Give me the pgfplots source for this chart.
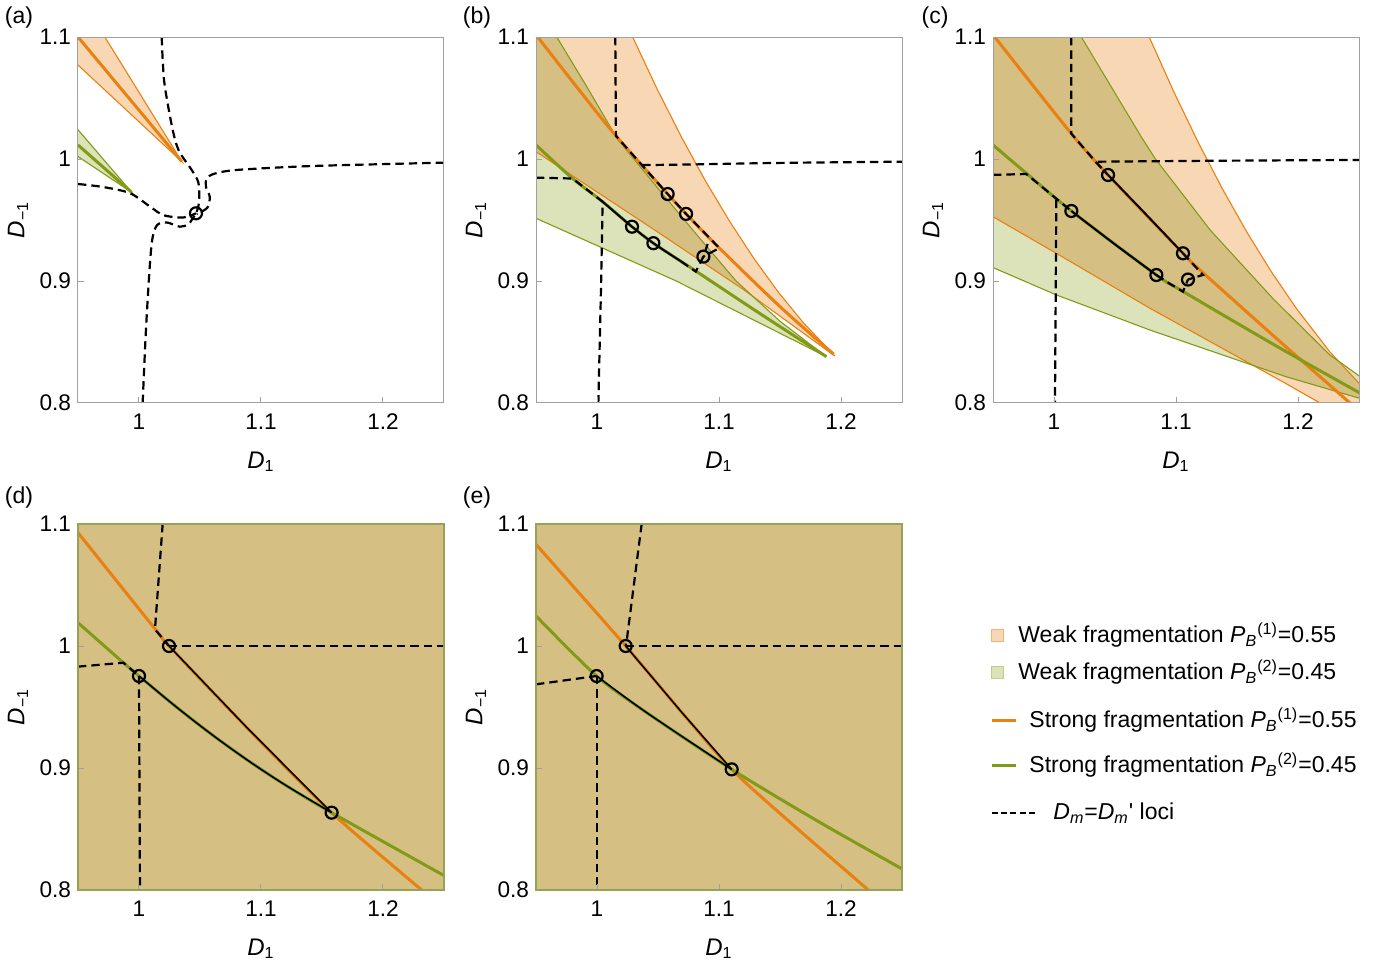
\documentclass[border=0pt]{standalone}
\usepackage{fontspec}
\setmainfont{Liberation Sans}
\usepackage{amsmath}
\usepackage{pgfplots}
\pgfplotsset{compat=1.18}
\definecolor{lo}{RGB}{248,216,180}
\definecolor{lg}{RGB}{220,226,186}
\definecolor{OR}{RGB}{234,128,16}
\definecolor{GR}{RGB}{130,155,22}
\definecolor{frame}{RGB}{160,160,160}
\pgfplotsset{
 panel/.style={
   scale only axis, width=183pt, height=183pt, anchor=south west,
   xmin=0.95,xmax=1.25,ymin=0.8,ymax=1.1,
   xtick={1,1.1,1.2}, ytick={0.8,0.9,1,1.1},
   tick pos=left, tick align=inside, major tick length=3pt,
   axis line style={draw=frame, line width=0.5pt},
   tick style={draw=frame, line width=0.5pt},
   /pgf/number format/assume math mode=true,
   tick label style={font=\fontsize{11.3}{13}\selectfont},
   xticklabel style={yshift=-1.8pt},
   xlabel={\textit{D}\textsubscript{1}},
   ylabel={\textit{D}\textsubscript{−1}},
   every axis x label/.style={at={(axis description cs:0.5,-0.161)},anchor=center,font=\fontsize{12}{14}\selectfont},
   every axis y label/.style={at={(axis description cs:-0.164,0.5)},anchor=center,rotate=90,font=\fontsize{12}{14}\selectfont},
   axis on top, clip=true,
 },
 bandO/.style={fill=lo, draw=none, blend mode=multiply},
 bandG/.style={fill=lg, draw=none, blend mode=multiply},
 thinO/.style={OR, line width=0.55pt},
 thinG/.style={GR, line width=0.55pt},
 thickO/.style={OR, line width=1.5pt, smooth},
 thickG/.style={GR, line width=1.5pt, smooth},
 dsh/.style={black, line width=1.1pt, dash pattern=on 4.2pt off 2.5pt},
 sol/.style={black, line width=1pt, smooth},
 circ/.style={only marks, mark=o, mark size=3pt, mark options={line width=1.1pt, black, solid}},
}
\begin{document}
\begin{tikzpicture}
\useasboundingbox (0pt,0pt) rectangle (695pt,-483.5pt);
% ---------------- (a)
\begin{axis}[panel, at={(39pt,-201.5pt)}]
\addplot[bandO] coordinates {(0.95,1.1) (0.972,1.1) (1.035,0.998) (0.95,1.077)} -- cycle;
\addplot[bandG] coordinates {(0.95,1.024) (0.994,0.9727) (0.95,1.002)} -- cycle;
\addplot[thinO] coordinates {(0.972,1.1) (1.035,0.998) (0.95,1.077)};
\addplot[thinG] coordinates {(0.95,1.024) (0.994,0.9727) (0.95,1.002)};
\addplot[OR, line width=1.5pt] coordinates {(0.95,1.1) (1.035,0.998)};
\addplot[GR, line width=1.5pt] coordinates {(0.95,1.0115) (0.994,0.9727)};
\addplot[dsh, smooth] coordinates {(1.0186,1.1) (1.0205,1.065) (1.0254,1.035) (1.0295,1.016) (1.0336,1.005) (1.0432,0.991) (1.0486,0.981) (1.0494,0.969) (1.0486,0.961) (1.0467,0.9555)};
\addplot[dsh, smooth] coordinates {(1.25,0.997) (1.20,0.9958) (1.135,0.994) (1.08,0.991) (1.062,0.988) (1.0555,0.984) (1.0549,0.977) (1.058,0.969) (1.056,0.960) (1.0473,0.955)};
\addplot[dsh, smooth] coordinates {(0.95,0.9795) (0.9708,0.977) (0.9926,0.972) (1.009,0.961) (1.020,0.954) (1.036,0.952) (1.0467,0.9555)};
\addplot[dsh, smooth] coordinates {(1.003,0.8) (1.0057,0.86) (1.009,0.9145) (1.0112,0.936) (1.015,0.946) (1.0227,0.948) (1.0336,0.9445) (1.0404,0.9465) (1.0432,0.950) (1.0467,0.9555)};
\addplot[circ] coordinates {(1.0467,0.9555)};
\end{axis}
% ---------------- (b)
\begin{axis}[panel, at={(268pt,-201.5pt)}]
\addplot[bandO] coordinates {(0.95,1.1) (1.0292,1.1) (1.0492,1.0575) (1.0692,1.018) (1.0892,0.9815) (1.1092,0.9481) (1.1292,0.9176) (1.1492,0.8901) (1.1692,0.8657) (1.195,0.8385) (1.12,0.893) (1.05,0.940) (0.95,1.006)} -- cycle;
\addplot[bandG] coordinates {(0.95,1.1) (0.967,1.1) (0.99,1.062) (1.017,1.016) (1.05,0.976) (1.08,0.940) (1.114,0.900) (1.15,0.867) (1.188,0.838) (1.065,0.900) (0.95,0.9514)} -- cycle;
\addplot[thinO] coordinates {(1.0292,1.1) (1.0492,1.0575) (1.0692,1.018) (1.0892,0.9815) (1.1092,0.9481) (1.1292,0.9176) (1.1492,0.8901) (1.1692,0.8657) (1.195,0.8385) (1.12,0.893) (1.05,0.940) (0.95,1.006)};
\addplot[thinG] coordinates {(0.967,1.1) (0.99,1.062) (1.017,1.016) (1.05,0.976) (1.08,0.940) (1.114,0.900) (1.15,0.867) (1.188,0.838) (1.065,0.900) (0.95,0.9514)};
\addplot[thickO] coordinates {(0.9514,1.1) (0.985,1.057) (1.0155,1.019) (1.0579,0.9713) (1.073,0.955) (1.1003,0.927) (1.15,0.879) (1.194,0.840)};
\addplot[thickG] coordinates {(0.95,1.0115) (0.980,0.984) (1.0046,0.965) (1.0287,0.9445) (1.0462,0.931) (1.069,0.916) (1.082,0.9075) (1.131,0.875) (1.188,0.838)};
\addplot[dsh] coordinates {(1.015,1.1) (1.0155,1.019) (1.0579,0.9713) (1.073,0.955) (1.1003,0.927) (1.0872,0.920)};
\addplot[dsh, smooth] coordinates {(1.037,0.995) (1.0817,0.9956) (1.15,0.9968) (1.25,0.9978)};
\addplot[dsh] coordinates {(0.95,0.9847) (0.980,0.984) (1.0046,0.965) (1.0033,0.895) (1.0011,0.8)};
\addplot[dsh] coordinates {(1.069,0.916) (1.081,0.9077) (1.0872,0.920) (1.0907,0.9303)};
\addplot[sol] coordinates {(1.0046,0.965) (1.0287,0.9445) (1.0462,0.931) (1.069,0.916)};
\addplot[circ] coordinates {(1.0579,0.9713) (1.073,0.955) (1.0287,0.9445) (1.0462,0.931) (1.0872,0.920)};
\end{axis}
% ---------------- (c)
\begin{axis}[panel, at={(496.5pt,-201.5pt)}]
\addplot[bandO] coordinates {(0.95,1.1) (1.078,1.1) (1.098,1.0555) (1.118,1.014) (1.138,0.9756) (1.158,0.9402) (1.178,0.9078) (1.198,0.8784) (1.226,0.842) (1.25,0.8162) (1.268,0.7995) (1.235,0.79) (1.218,0.80) (1.19,0.816) (1.0787,0.8776) (1.0019,0.9227) (0.95,0.9527)} -- cycle;
\addplot[bandG] coordinates {(0.95,1.1) (1.0224,1.1) (1.0716,1.018) (1.0828,1.0005) (1.128,0.9418) (1.18,0.885) (1.2262,0.8393) (1.251,0.8216) (1.26,0.815) (1.26,0.80) (1.25,0.804) (1.19,0.8216) (1.0787,0.8598) (1.0019,0.8886) (0.95,0.911)} -- cycle;
\addplot[thinO] coordinates {(1.078,1.1) (1.098,1.0555) (1.118,1.014) (1.138,0.9756) (1.158,0.9402) (1.178,0.9078) (1.198,0.8784) (1.226,0.842) (1.25,0.8162) (1.268,0.7995)};
\addplot[thinO] coordinates {(0.95,0.9527) (1.0019,0.9227) (1.0787,0.8776) (1.19,0.816) (1.218,0.80) (1.235,0.79)};
\addplot[thinG] coordinates {(1.0224,1.1) (1.0716,1.018) (1.0828,1.0005) (1.128,0.9418) (1.18,0.885) (1.2262,0.8393) (1.251,0.8216) (1.26,0.815)};
\addplot[thinG] coordinates {(0.95,0.911) (1.0019,0.8886) (1.0787,0.8598) (1.19,0.8216) (1.25,0.804) (1.26,0.801)};
\addplot[thickO] coordinates {(0.9514,1.1) (1.0142,1.0208) (1.0443,0.9869) (1.1057,0.9227) (1.1197,0.909) (1.18,0.855) (1.2426,0.80) (1.254,0.79)};
\addplot[thickG] coordinates {(0.95,1.0115) (0.9773,0.9883) (1.0142,0.9574) (1.0839,0.9049) (1.106,0.8913) (1.18,0.848) (1.251,0.808) (1.26,0.803)};
\addplot[dsh] coordinates {(1.0142,1.1) (1.0142,1.0208) (1.0347,0.997) (1.0443,0.9869)};
\addplot[dsh, smooth] coordinates {(1.036,0.9978) (1.1385,0.9986) (1.25,0.9992)};
\addplot[dsh] coordinates {(0.95,0.987) (0.9773,0.9877) (1.0142,0.9574)};
\addplot[dsh] coordinates {(1.0019,0.9667) (1.0008,0.8)};
\addplot[dsh] coordinates {(1.1057,0.9227) (1.1221,0.905) (1.1098,0.9012)};
\addplot[dsh] coordinates {(1.0839,0.9049) (1.0921,0.8995) (1.1057,0.8913) (1.1098,0.9012)};
\addplot[sol] coordinates {(1.0443,0.9869) (1.075,0.955) (1.1057,0.9227)};
\addplot[sol] coordinates {(1.0142,0.9574) (1.05,0.930) (1.0839,0.9049)};
\addplot[circ] coordinates {(1.0443,0.9869) (1.1057,0.9227) (1.0142,0.9574) (1.0839,0.9049) (1.1098,0.9012)};
\end{axis}
% ---------------- (d)
\begin{axis}[panel, at={(39pt,-445pt)}, axis line style={draw=GR!80!black!70, line width=0.6pt}]
\addplot[bandO] coordinates {(0.94,0.79) (1.26,0.79) (1.26,1.11) (0.94,1.11)} -- cycle;
\addplot[bandG] coordinates {(0.94,0.79) (1.26,0.79) (1.26,1.11) (0.94,1.11)} -- cycle;
\addplot[thickO] coordinates {(0.95,1.0929) (1.0145,1.0123) (1.0246,1.0) (1.09,0.9315) (1.1579,0.8634) (1.2317,0.80) (1.245,0.789)};
\addplot[thickG] coordinates {(0.95,1.0191) (0.9872,0.9863) (1.0,0.9754) (1.03,0.9505) (1.06,0.9272) (1.09,0.9057) (1.12,0.886) (1.1579,0.8634) (1.2508,0.8114) (1.26,0.8065)};
\addplot[dsh] coordinates {(1.0194,1.1) (1.0131,1.0137) (1.0246,1.0)};
\addplot[dsh] coordinates {(1.0246,1.0) (1.25,1.0)};
\addplot[dsh] coordinates {(0.95,0.9831) (0.9872,0.9863) (1.0,0.9754)};
\addplot[dsh] coordinates {(1.0,0.9754) (1.0008,0.8)};
\addplot[black, line width=0.8pt] coordinates {(1.0246,1.0) (1.09,0.9315) (1.1579,0.8634)};
\addplot[black, line width=0.8pt, smooth] coordinates {(1.0,0.9754) (1.03,0.9505) (1.06,0.9272) (1.09,0.9057) (1.12,0.886) (1.1579,0.8634)};
\addplot[circ] coordinates {(1.0246,1.0) (1.0,0.9754) (1.1579,0.8634)};
\end{axis}
% ---------------- (e)
\begin{axis}[panel, at={(268pt,-445pt)}, axis line style={draw=GR!80!black!70, line width=0.6pt}]
\addplot[bandO] coordinates {(0.94,0.79) (1.26,0.79) (1.26,1.11) (0.94,1.11)} -- cycle;
\addplot[bandG] coordinates {(0.94,0.79) (1.26,0.79) (1.26,1.11) (0.94,1.11)} -- cycle;
\addplot[thickO] coordinates {(0.95,1.0833) (1.0235,1.0) (1.07,0.945) (1.1104,0.8989) (1.16,0.854) (1.2224,0.80) (1.234,0.79)};
\addplot[thickG] coordinates {(0.95,1.0246) (0.9997,0.9754) (1.0407,0.9454) (1.1104,0.8989) (1.18,0.857) (1.2497,0.8175) (1.26,0.812)};
\addplot[dsh] coordinates {(1.0366,1.1) (1.0243,1.004) (1.0235,1.0)};
\addplot[dsh] coordinates {(1.0235,1.0) (1.25,1.0)};
\addplot[dsh] coordinates {(0.95,0.9686) (0.9997,0.9754)};
\addplot[dsh] coordinates {(0.9997,0.9754) (0.9997,0.8)};
\addplot[black, line width=0.8pt] coordinates {(1.0235,1.0) (1.07,0.945) (1.1104,0.8989)};
\addplot[black, line width=0.8pt, smooth] coordinates {(0.9997,0.9754) (1.0407,0.9454) (1.1104,0.8989)};
\addplot[circ] coordinates {(1.0235,1.0) (0.9997,0.9754) (1.1104,0.8989)};
\end{axis}
% panel labels
\node[font=\fontsize{11.5}{13}\selectfont] at (9.5pt,-9pt) {(a)};
\node[font=\fontsize{11.5}{13}\selectfont] at (238.5pt,-9pt) {(b)};
\node[font=\fontsize{11.5}{13}\selectfont] at (467.5pt,-9pt) {(c)};
\node[font=\fontsize{11.5}{13}\selectfont] at (9.5pt,-249pt) {(d)};
\node[font=\fontsize{11.5}{13}\selectfont] at (238.5pt,-249pt) {(e)};
% legend
\begin{scope}[font=\fontsize{11.5}{13}\selectfont]
\draw[OR!60, fill=lo, line width=0.4pt] (495.5pt,-320.5pt) rectangle (501.5pt,-314.5pt);
\node[anchor=west, inner sep=0pt] at (509pt,-317.5pt) {Weak fragmentation \textit{P}\textsubscript{\textit{B}}\textsuperscript{(1)}=0.55};
\draw[GR!50, fill=lg, line width=0.4pt] (495.5pt,-339pt) rectangle (501.5pt,-333pt);
\node[anchor=west, inner sep=0pt] at (509pt,-336pt) {Weak fragmentation \textit{P}\textsubscript{\textit{B}}\textsuperscript{(2)}=0.45};
\draw[OR, line width=1.5pt] (496pt,-360pt) -- (508pt,-360pt);
\node[anchor=west, inner sep=0pt] at (514.5pt,-360pt) {Strong fragmentation \textit{P}\textsubscript{\textit{B}}\textsuperscript{(1)}=0.55};
\draw[GR, line width=1.5pt] (496pt,-382.5pt) -- (508pt,-382.5pt);
\node[anchor=west, inner sep=0pt] at (514.5pt,-382.5pt) {Strong fragmentation \textit{P}\textsubscript{\textit{B}}\textsuperscript{(2)}=0.45};
\draw[black, line width=0.8pt, dash pattern=on 3pt off 1.6pt] (496pt,-406.5pt) -- (518.5pt,-406.5pt);
\node[anchor=west, inner sep=0pt] at (526.5pt,-406.5pt) {\textit{D}\textsubscript{\textit{m}}=\textit{D}\textsubscript{\textit{m}}\textquotesingle\ loci};
\end{scope}
\end{tikzpicture}
\end{document}
